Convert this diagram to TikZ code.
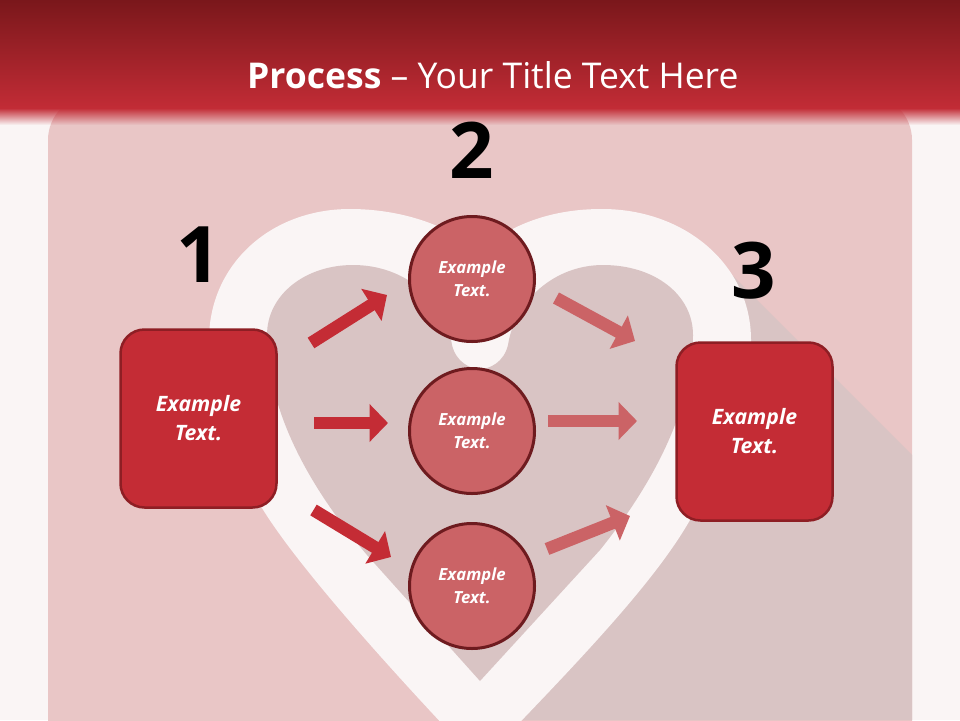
\documentclass[tikz,border=0pt]{standalone}
\usepackage{fontspec}
\setmainfont{Open Sans}
\usetikzlibrary{arrows.meta}
\definecolor{pagebg}{HTML}{FAF5F5}
\definecolor{panelpink}{HTML}{E9C6C6}
\definecolor{shadowgrey}{HTML}{D9C4C4}
\definecolor{bandtop}{HTML}{7A171B}
\definecolor{bandred}{HTML}{C22C36}
\definecolor{boxred}{HTML}{C42C35}
\definecolor{boxline}{HTML}{8E1E24}
\definecolor{circred}{HTML}{CB6366}
\definecolor{circline}{HTML}{6E1B1F}
\tikzset{
	procbox/.style={draw=boxline, fill=boxred, line width=2.5pt, rounded corners=24pt, minimum width=156pt, minimum height=178pt, align=center, text=white, font={\fontsize{21.2}{29}\selectfont\bfseries\itshape}},
	proccirc/.style={circle, draw=circline, fill=circred, line width=3pt, minimum size=125pt, inner sep=0pt, align=center, text=white, font={\fontsize{16.7}{23}\selectfont\bfseries\itshape}},
	bignum/.style={inner sep=0pt, font={\fontsize{78}{78}\selectfont\bfseries}},
	darkarrow/.style={draw=boxred, line width=12.5pt, -{Triangle[length=18.5pt,width=37pt]}},
	lightarrow/.style={draw=circred, line width=12.5pt, -{Triangle[length=18.5pt,width=37pt]}}
}
\begin{document}
\begin{tikzpicture}[x=1pt,y=-1pt]
	\clip (0,0) rectangle (960,720);
	\fill[pagebg] (0,0) rectangle (960,720);
	\fill[panelpink, rounded corners=45pt] (48,780) |- (912,95) -- (912,780) -- cycle;
	\fill[shadowgrey] (733,276) -- (912,455) -- (912,720) -- (500,720) -- (600,400) -- cycle;
	% heart, outer then inner
	\fill[pagebg] (480,764) .. controls (400,680) and (300,570) .. (262,508)
		.. controls (230,455) and (209,400) .. (209,340)
		.. controls (209,265) and (270,209) .. (350,209)
		.. controls (400,209) and (450,225) .. (478,252)
		.. controls (510,225) and (550,209) .. (602,209)
		.. controls (685,209) and (751,265) .. (751,340)
		.. controls (751,400) and (725,460) .. (690,520)
		.. controls (650,590) and (560,680) .. cycle;
	\fill[shadowgrey] (480,681) -- (367,555)
		.. controls (320,500) and (267,420) .. (267,335)
		.. controls (267,295) and (305,265) .. (353,265)
		.. controls (405,265) and (445,300) .. (452,345)
		.. controls (456,362) and (470,369) .. (480,369)
		.. controls (490,369) and (504,362) .. (508,345)
		.. controls (515,300) and (555,265) .. (603,265)
		.. controls (655,265) and (693,295) .. (693,335)
		.. controls (693,420) and (640,500) .. (600,550) -- cycle;
	% title band
	\shade[top color=bandtop, bottom color=bandred] (0,0) rectangle (960,108);
	\foreach \i in {0,...,16}
		\fill[bandred, opacity={1-\i/17}] (0,108+\i) rectangle (960,109+\i);
	\node[anchor=base west, inner sep=0pt, text=white, font={\fontsize{35.5}{40}\selectfont}] (title) at (247,88) {\textbf{Process} -- Your Title Text Here};
	% numbers
	\node[bignum] (num1) at (199,255) {1};
	\node[bignum] (num2) at (472,150) {2};
	\node[bignum] (num3) at (754,271) {3};
	% steps
	\node[procbox] (box1) at (198.5,418.5) {Example\\Text.};
	\node[procbox] (box3) at (754.5,431.5) {Example\\Text.};
	\foreach \n/\y in {top/279,mid/431,low/586}
		\node[proccirc] (circ\n) at (472,\y) {Example\\Text.};
	% arrows
	\foreach \n/\a/\b/\c/\d in {a/311/343/387/295,b/314/423/388/423,c/313.5/510/391/557}{
		\coordinate (\n from) at (\a,\b);
		\coordinate (\n to) at (\c,\d);
		\draw[darkarrow] (\n from) -- (\n to);
	}
	\foreach \n/\a/\b/\c/\d in {d/556/298/635/341,e/548/421/637/421,f/547/549/630/516}{
		\coordinate (\n from) at (\a,\b);
		\coordinate (\n to) at (\c,\d);
		\draw[lightarrow] (\n from) -- (\n to);
	}
\end{tikzpicture}
\end{document}
